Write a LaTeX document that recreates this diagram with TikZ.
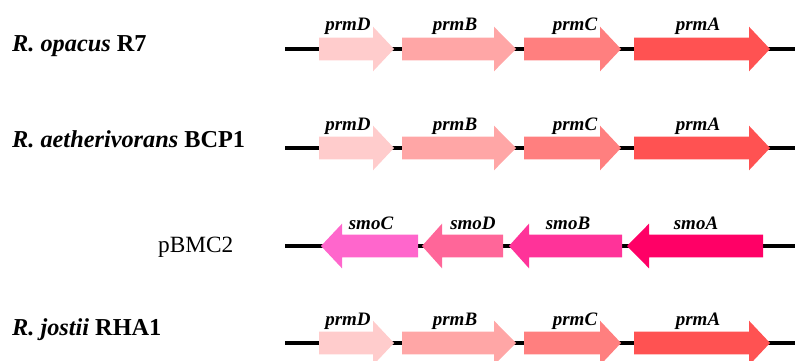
\documentclass[tikz,border=0pt]{standalone}
\usepackage{fontspec}
\setmainfont{Liberation Serif}
\definecolor{cD}{HTML}{FFCCCC}
\definecolor{cB}{HTML}{FFA6A6}
\definecolor{cC}{HTML}{FF7F7F}
\definecolor{cA}{HTML}{FF5252}
\definecolor{sC}{HTML}{FF66CC}
\definecolor{sD}{HTML}{FF6699}
\definecolor{sB}{HTML}{FF3399}
\definecolor{sA}{HTML}{FF0066}
% #1 tail x, #2 head base x, #3 tip x, #4 line y, #5 colour
\newcommand\genearrow[5]{%
  \fill[#5] (#1,#4-11.3) -- (#2,#4-11.3) -- (#2,#4-22.3) -- (#3,#4) -- (#2,#4+22.3) -- (#2,#4+11.3) -- (#1,#4+11.3) -- cycle;}
\tikzset{
  genelabel/.style={font=\fontsize{19}{21}\selectfont\bfseries\itshape, inner sep=0pt, anchor=base},
  strain/.style={font=\fontsize{24.3}{26}\selectfont\bfseries, inner sep=0pt, anchor=base west},
  plasmid/.style={font=\fontsize{23.3}{25}\selectfont, inner sep=0pt, anchor=base west},
  dna/.style={line width=4.5pt}
}
\begin{document}
\begin{tikzpicture}[x=1pt,y=-1pt]
\useasboundingbox (0,0) rectangle (795,361);
% strain labels
\node[strain] (s1) at (12,52) {\textit{R. opacus} R7};
\node[strain] (s2) at (12,147) {\textit{R. aetherivorans} BCP1};
\node[plasmid] (s3) at (158,252) {pBMC2};
\node[strain] (s4) at (12,335) {\textit{R. jostii} RHA1};
% DNA lines
\foreach \yy/\nm in {49/l1,148/l2,246/l3,343/l4}{
  \coordinate (\nm a) at (285,\yy);
  \coordinate (\nm b) at (795,\yy);
  \draw[dna] (\nm a) -- (\nm b);
}
% prm operons
\foreach \yy/\rr in {49/a,148/b,343/d}{
  \genearrow{319}{373}{394}{\yy}{cD}
  \genearrow{402}{494}{516}{\yy}{cB}
  \genearrow{524}{600}{621}{\yy}{cC}
  \genearrow{634}{749}{770}{\yy}{cA}
  \node[genelabel] (pD\rr) at (348,\yy-18) {prmD};
  \node[genelabel] (pB\rr) at (455,\yy-18) {prmB};
  \node[genelabel] (pC\rr) at (575,\yy-18) {prmC};
  \node[genelabel] (pA\rr) at (698,\yy-18) {prmA};
}
% smo operon
\genearrow{418}{342}{321}{246}{sC}
\genearrow{503}{442}{422}{246}{sD}
\genearrow{622}{529}{509}{246}{sB}
\genearrow{763}{649}{627}{246}{sA}
\node[genelabel] (mC) at (371,246-17) {smoC};
\node[genelabel] (mD) at (473,246-17) {smoD};
\node[genelabel] (mB) at (568,246-17) {smoB};
\node[genelabel] (mA) at (696,246-17) {smoA};
\end{tikzpicture}
\end{document}
